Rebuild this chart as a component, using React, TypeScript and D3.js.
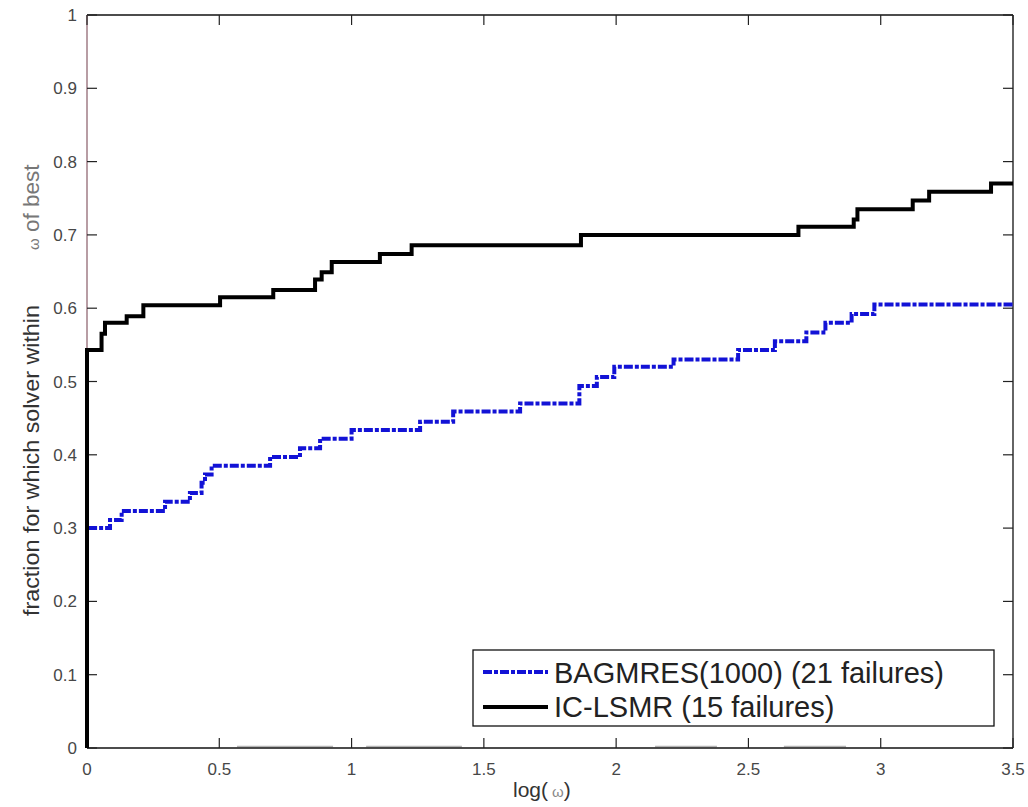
import React from "react";
import * as d3 from "d3";

const xTicks = [0, 0.5, 1, 1.5, 2, 2.5, 3, 3.5];
const xTickLabels = ["0", "0.5", "1", "1.5", "2", "2.5", "3", "3.5"];
const yTicks = [0, 0.1, 0.2, 0.3, 0.4, 0.5, 0.6, 0.7, 0.8, 0.9, 1];
const yTickLabels = ["0", "0.1", "0.2", "0.3", "0.4", "0.5", "0.6", "0.7", "0.8", "0.9", "1"];

// BAGMRES(1000) step profile: [log(omega), fraction]
const bagmresX = [0, 0, 0.087, 0.131, 0.295, 0.389, 0.433, 0.446, 0.471, 0.692, 0.805, 0.881, 1.0, 1.259, 1.384, 1.637, 1.861, 1.927, 1.993, 2.217, 2.461, 2.6, 2.719, 2.791, 2.89, 2.976, 3.5];
const bagmresY = [0, 0.3, 0.311, 0.3235, 0.336, 0.348, 0.362, 0.373, 0.385, 0.397, 0.409, 0.422, 0.434, 0.445, 0.459, 0.47, 0.494, 0.506, 0.52, 0.53, 0.543, 0.555, 0.567, 0.58, 0.592, 0.605, 0.605];

// IC-LSMR step profile
const iclsmrX = [0, 0, 0.055, 0.068, 0.15, 0.213, 0.503, 0.704, 0.862, 0.887, 0.925, 1.107, 1.227, 1.867, 2.689, 2.898, 2.912, 3.121, 3.183, 3.417, 3.5];
const iclsmrY = [0, 0.543, 0.565, 0.58, 0.589, 0.604, 0.615, 0.625, 0.639, 0.649, 0.663, 0.674, 0.686, 0.7, 0.711, 0.721, 0.735, 0.747, 0.759, 0.77, 0.77];

// faint grey segments lying on the bottom axis (in x units)
const baselineSegStart = [0.567, 1.055, 2.147, 2.634];
const baselineSegEnd = [0.93, 1.417, 2.381, 2.869];

const seriesNames = ["BAGMRES(1000) (21 failures)", "IC-LSMR (15 failures)"];

const FONT = "'Liberation Sans', Arial, Helvetica, sans-serif";
const DASH = "9 2 4 2";

export default function App() {
  const W = 1028, H = 807;
  const x0 = 87, x1 = 1013, yTop = 15, yBot = 748;
  const x = d3.scaleLinear().domain([0, 3.5]).range([x0, x1]);
  const y = d3.scaleLinear().domain([0, 1]).range([yBot, yTop]);

  const line = d3
    .line<[number, number]>()
    .x((d) => x(d[0]))
    .y((d) => y(d[1]))
    .curve(d3.curveStepAfter);

  const bag: [number, number][] = bagmresX.map((v, i) => [v, bagmresY[i]]);
  const ic: [number, number][] = iclsmrX.map((v, i) => [v, iclsmrY[i]]);

  const tickLen = 10;
  const tickColor = "#222";
  const labelColor = "#474747";

  return (
    <svg
      width={W}
      height={H}
      style={{ position: "absolute", left: 0, top: 0, background: "#fff" }}
      fontFamily={FONT}
    >
      <rect x={0} y={0} width={W} height={H} fill="#fff" />

      {/* faint baseline segments */}
      {baselineSegStart.map((s, i) => (
        <line
          key={"bs" + i}
          x1={x(s)}
          x2={x(baselineSegEnd[i])}
          y1={yBot - 1.5}
          y2={yBot - 1.5}
          stroke="#b4b4b4"
          strokeWidth={1.6}
        />
      ))}

      {/* axes box */}
      <line x1={x0} x2={x1} y1={yTop} y2={yTop} stroke="#111" strokeWidth={1.3} />
      <line x1={x1} x2={x1} y1={yTop} y2={yBot} stroke="#111" strokeWidth={1.3} />
      <line x1={x0} x2={x1} y1={yBot} y2={yBot} stroke="#111" strokeWidth={1.5} />
      <line x1={x0} x2={x0} y1={yTop} y2={yBot} stroke="#a07d86" strokeWidth={1.5} />

      {/* x ticks */}
      {xTicks.map((t, i) => (
        <g key={"xt" + i}>
          <line x1={x(t)} x2={x(t)} y1={yBot} y2={yBot - tickLen} stroke={tickColor} strokeWidth={1.2} />
          <line x1={x(t)} x2={x(t)} y1={yTop} y2={yTop + tickLen} stroke={tickColor} strokeWidth={1.2} />
          <text x={x(t)} y={775} textAnchor="middle" fontSize={17} fill={labelColor}>
            {xTickLabels[i]}
          </text>
        </g>
      ))}

      {/* y ticks */}
      {yTicks.map((t, i) => (
        <g key={"yt" + i}>
          <line x1={x0} x2={x0 + tickLen} y1={y(t)} y2={y(t)} stroke={tickColor} strokeWidth={1.2} />
          <line x1={x1} x2={x1 - tickLen} y1={y(t)} y2={y(t)} stroke={tickColor} strokeWidth={1.2} />
          <text x={77} y={y(t) + 6} textAnchor="end" fontSize={17} fill={labelColor}>
            {yTickLabels[i]}
          </text>
        </g>
      ))}

      {/* series */}
      <path d={line(bag) || ""} fill="none" stroke="#1212d6" strokeWidth={4} strokeDasharray={DASH} />
      <path d={line(ic) || ""} fill="none" stroke="#000" strokeWidth={4} />

      {/* axis labels */}
      <text x={513} y={797} fontSize={21} fill="#333">
        log(
        <tspan fontSize={15} fill="#888" dx={4}>ω</tspan>
        <tspan>)</tspan>
      </text>
      <text
        transform={`translate(39, 616) rotate(-90)`}
        fontSize={22.5}
        fill="#333"
        textLength={311}
        lengthAdjust="spacingAndGlyphs"
      >
        fraction for which solver within
      </text>
      <text transform={`translate(39, 250) rotate(-90)`} fontSize={22.5} fill="#777">
        <tspan fontSize={15}>ω</tspan>
        <tspan> of best</tspan>
      </text>

      {/* legend */}
      <rect x={473} y={650} width={521} height={76} fill="#fff" stroke="#111" strokeWidth={1.3} />
      <line x1={483} x2={548} y1={672} y2={672} stroke="#1212d6" strokeWidth={4} strokeDasharray={DASH} />
      <line x1={483} x2={548} y1={707} y2={707} stroke="#000" strokeWidth={4} />
      <text x={554} y={683} fontSize={29} fill="#222">
        {seriesNames[0]}
      </text>
      <text x={554} y={717} fontSize={29} fill="#222">
        {seriesNames[1]}
      </text>
    </svg>
  );
}
